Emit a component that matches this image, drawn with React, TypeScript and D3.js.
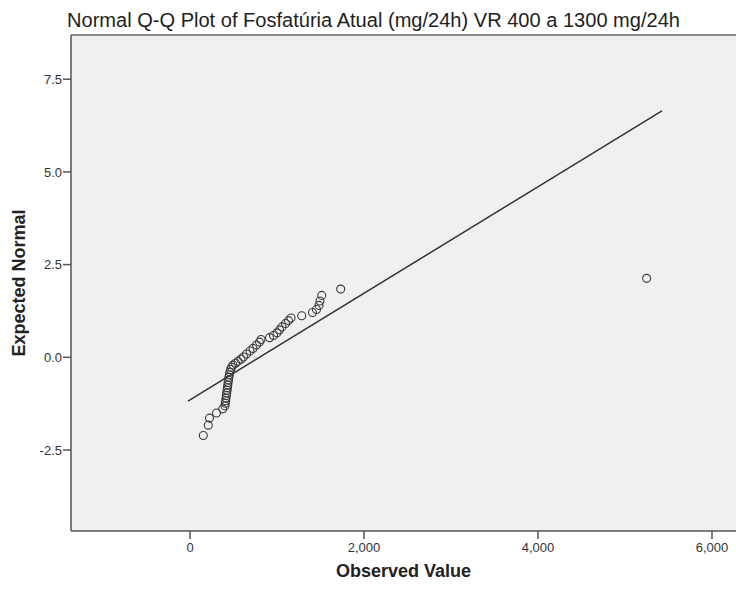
import React from "react";
import * as d3 from "d3";

const title = "Normal Q-Q Plot of Fosfatúria Atual (mg/24h) VR 400 a 1300 mg/24h";
const xLabel = "Observed Value";
const yLabel = "Expected Normal";

const xTicks = [0, 2000, 4000, 6000];
const yTicks = [-2.5, 0, 2.5, 5, 7.5];

// observed values (mg/24h)
const observed = [
  153, 210, 224, 305, 376, 402, 406, 410, 414, 418, 422, 426, 430, 434, 438, 442,
  447, 452, 458, 466, 477, 494, 523, 552, 586, 615, 649, 690, 724, 764, 799, 816,
  914, 960, 1000, 1029, 1057, 1098, 1132, 1161, 1284, 1408, 1454, 1483, 1494, 1514,
  1732, 5249,
];
// expected normal quantiles
const expected = [
  -2.11, -1.83, -1.64, -1.5, -1.39, -1.31, -1.24, -1.17, -1.1, -1.03, -0.96, -0.89,
  -0.82, -0.75, -0.68, -0.61, -0.54, -0.47, -0.4, -0.33, -0.27, -0.21, -0.16, -0.11,
  -0.05, 0.01, 0.09, 0.17, 0.24, 0.33, 0.41, 0.48, 0.53, 0.59, 0.66, 0.74, 0.82, 0.91,
  0.99, 1.06, 1.12, 1.21, 1.29, 1.4, 1.52, 1.67, 1.84, 2.13,
];

// reference line: expected = (x - mean) / sd
const refMean = 798;
const refSd = 696;
const refX = [-23, 5425];

const W = 736;
const H = 590;
const left = 71;
const right = 736;
const top = 35;
const bottom = 531;

export default function App() {
  const x = d3.scaleLinear().domain([-1368, 6276]).range([left, right]);
  const y = d3.scaleLinear().domain([-4.684, 8.692]).range([bottom, top]);
  const fmtX = d3.format(",");
  const fmtY = (v: number) => v.toFixed(1);
  const line = d3
    .line<number>()
    .x((d) => x(d))
    .y((d) => y((d - refMean) / refSd));
  const font = "'Liberation Sans', Arial, sans-serif";
  return (
    <svg
      width={W}
      height={H}
      style={{ position: "absolute", left: 0, top: 0, background: "#fff" }}
      fontFamily={font}
    >
      <rect x={left} y={top} width={right - left} height={bottom - top} fill="#eff0f2" />
      <line x1={left} x2={right} y1={top} y2={top} stroke="#8a8a8a" strokeWidth={2} />
      <line x1={left} x2={right} y1={bottom} y2={bottom} stroke="#555" strokeWidth={1.5} />
      <line x1={left} x2={left} y1={top} y2={bottom} stroke="#555" strokeWidth={1.5} />
      {xTicks.map((t) => (
        <g key={"x" + t}>
          <line x1={x(t)} x2={x(t)} y1={bottom} y2={bottom + 8} stroke="#555" strokeWidth={1.5} />
          <text x={x(t)} y={552} textAnchor="middle" fontSize={13} fill="#333">
            {fmtX(t)}
          </text>
        </g>
      ))}
      {yTicks.map((t) => (
        <g key={"y" + t}>
          <line x1={left - 8} x2={left} y1={y(t)} y2={y(t)} stroke="#555" strokeWidth={1.5} />
          <text x={62} y={y(t) + 4.6} textAnchor="end" fontSize={13} fill="#333">
            {fmtY(t)}
          </text>
        </g>
      ))}
      <path d={line(refX) || ""} fill="none" stroke="#333" strokeWidth={1.5} />
      {observed.map((v, i) => (
        <circle
          key={i}
          cx={x(v)}
          cy={y(expected[i])}
          r={4}
          fill="none"
          stroke="#3a3a3a"
          strokeWidth={1.1}
        />
      ))}
      <text x={67} y={27} fontSize={19.5} fill="#1e1e1e" textLength={613} lengthAdjust="spacingAndGlyphs">
        {title}
      </text>
      <text x={(left + right) / 2} y={577} textAnchor="middle" fontSize={18} fontWeight="bold" fill="#222">
        {xLabel}
      </text>
      <text
        transform={`translate(25, ${(top + bottom) / 2}) rotate(-90)`}
        textAnchor="middle"
        fontSize={18}
        fontWeight="bold"
        fill="#222"
      >
        {yLabel}
      </text>
    </svg>
  );
}
